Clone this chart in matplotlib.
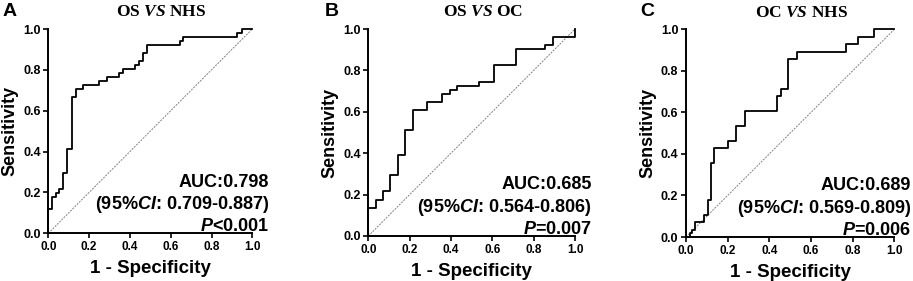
import matplotlib
matplotlib.use("Agg")
from matplotlib import pyplot as plt

plt.rcParams['font.family'] = 'Liberation Sans'
plt.rcParams['font.weight'] = 'bold'
plt.rcParams['mathtext.fontset'] = 'custom'
plt.rcParams['mathtext.it'] = 'Liberation Sans:bold:italic'
plt.rcParams['mathtext.rm'] = 'Liberation Sans:bold'
plt.rcParams['mathtext.bf'] = 'Liberation Serif:bold:italic'

# ROC corner points (1 - specificity, sensitivity)
fpr_a = [0.0, 0.0, 0.017, 0.036, 0.054, 0.074, 0.093, 0.115, 0.134, 0.17, 0.25, 0.29,
         0.346, 0.364, 0.425, 0.446, 0.462, 0.485, 0.645, 0.662, 0.923, 0.948, 1.0]
tpr_a = [0.0, 0.118, 0.176, 0.196, 0.216, 0.294, 0.412, 0.667, 0.706, 0.725, 0.745, 0.765,
         0.784, 0.804, 0.824, 0.843, 0.882, 0.922, 0.941, 0.961, 0.980, 1.0, 1.0]

fpr_b = [0.0, 0.0, 0.036, 0.071, 0.107, 0.143, 0.179, 0.214, 0.286, 0.357, 0.393, 0.429,
         0.536, 0.607, 0.714, 0.857, 0.893, 1.0]
tpr_b = [0.0, 0.137, 0.176, 0.216, 0.294, 0.392, 0.510, 0.608, 0.647, 0.686, 0.706, 0.725,
         0.745, 0.824, 0.902, 0.922, 0.961, 1.0]

fpr_c = [0.0, 0.02, 0.03, 0.045, 0.086, 0.106, 0.122, 0.134, 0.202, 0.242, 0.282, 0.438,
         0.455, 0.491, 0.534, 0.767, 0.827, 0.902, 1.0]
tpr_c = [0.0, 0.018, 0.036, 0.071, 0.107, 0.179, 0.357, 0.429, 0.464, 0.536, 0.607, 0.679,
         0.714, 0.857, 0.893, 0.929, 0.964, 1.0, 1.0]

titles = ['OS $\\mathbf{VS}$ NHS', 'OS $\\mathbf{VS}$ OC', 'OC $\\mathbf{VS}$ NHS']
letters = ['A', 'B', 'C']
auc_txt = ['AUC:0.798', 'AUC:0.685', 'AUC:0.689']
ci_txt = ['(95%$CI$: 0.709-0.887)', '(95%$CI$: 0.564-0.806)', '(95%$CI$: 0.569-0.809)']
p_txt = ['$P$<0.001', '$P$=0.007', '$P$=0.006']

W, H = 913, 281
fig = plt.figure(figsize=(W / 100, H / 100), dpi=100)

# axes boxes in pixels: left, top, right, bottom
boxes = [(48.3, 29, 252.3, 233.3), (368.3, 29, 575, 236), (686, 29.3, 894.3, 237)]
letter_x = [3, 325, 640]
curves = [(fpr_a, tpr_a), (fpr_b, tpr_b), (fpr_c, tpr_c)]

for i in range(3):
    l, t, r, b = boxes[i]
    ax = fig.add_axes([l / W, 1 - b / H, (r - l) / W, (b - t) / H])
    ax.plot([0, 1], [0, 1], color='grey', lw=0.7, ls=(0, (2, 1.2)))
    x, y = curves[i]
    ax.step(x, y, where='post', color='black', lw=1.3, clip_on=False)
    ax.set_xlim(0, 1)
    ax.set_ylim(0, 1)
    ticks = [0, 0.2, 0.4, 0.6, 0.8, 1.0]
    ax.set_xticks(ticks)
    ax.set_yticks(ticks)
    ax.set_xticklabels([f'{v:.1f}' for v in ticks], fontsize=8.5, fontweight='bold')
    ax.set_yticklabels([f'{v:.1f}' for v in ticks], fontsize=9, fontweight='bold')
    ax.tick_params(direction='out', length=3.5, width=1.2, pad=2)
    for s in ['top', 'right']:
        ax.spines[s].set_visible(False)
    for s in ['left', 'bottom']:
        ax.spines[s].set_linewidth(1.4)
    ax.set_xlabel('1 - Specificity', fontsize=13.5, fontweight='bold', labelpad=5)
    ax.set_ylabel('Sensitivity', fontsize=13, fontweight='bold', labelpad=3)
    ax.set_title(titles[i], fontsize=12.5, fontweight='bold', family='Liberation Serif',
                 x=0.555, pad=9)
    ax.text(1.08, 0.227, auc_txt[i], transform=ax.transAxes, ha='right', va='baseline',
            fontsize=13, fontweight='bold')
    ax.text(1.08, 0.117, ci_txt[i], transform=ax.transAxes, ha='right', va='baseline',
            fontsize=13, fontweight='bold')
    ax.text(1.08, 0.009, p_txt[i], transform=ax.transAxes, ha='right', va='baseline',
            fontsize=13, fontweight='bold')
    fig.text(letter_x[i] / W, 1 - 3 / H, letters[i], ha='left', va='top',
             fontsize=14, fontweight='bold')

plt.savefig('out.png', dpi=100)
